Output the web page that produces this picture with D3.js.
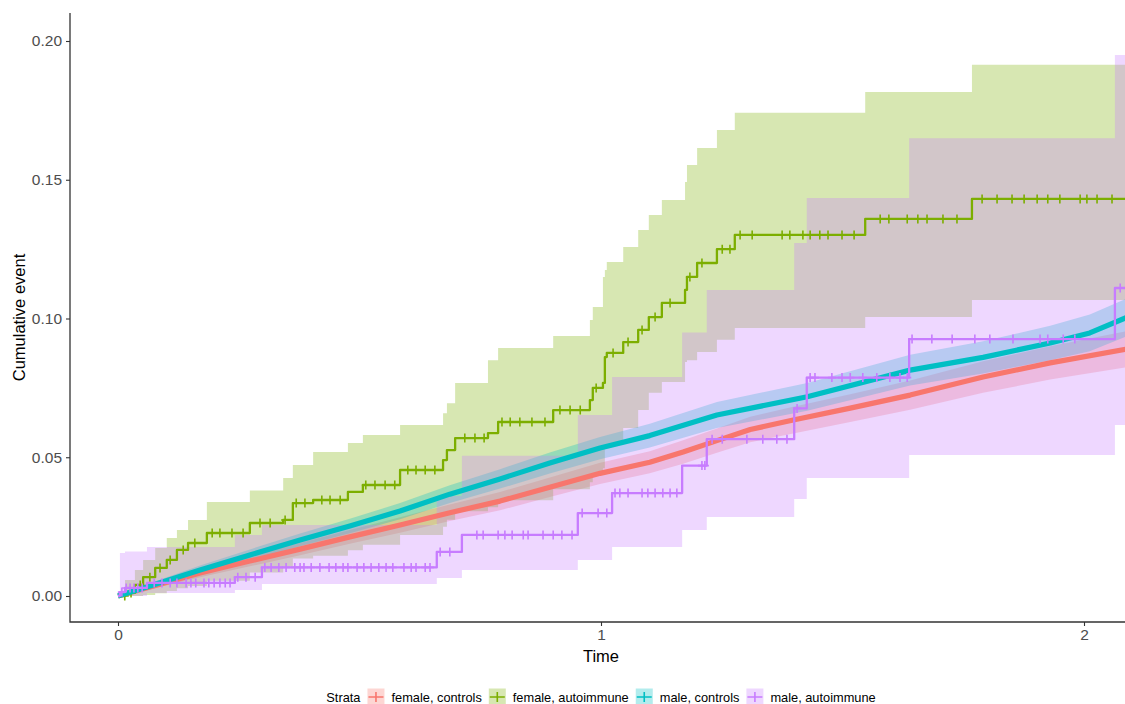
<!DOCTYPE html>
<html>
<head>
<meta charset="utf-8">
<script src="https://cdn.jsdelivr.net/npm/d3@7/dist/d3.min.js"></script>
<style>
  body { margin: 0; background: #ffffff; }
  svg text { font-family: "Liberation Sans", Arial, Helvetica, sans-serif; }
</style>
</head>
<body>
<svg id="chart" width="1125" height="704"></svg>
<script>
// ---- strata / colours (ggplot default hues) ----
var strataNames = ["female, controls", "female, autoimmune", "male, controls", "male, autoimmune"];
var strataColors = ["#F8766D", "#7CAE00", "#00BFC4", "#C77CFF"];

var xTicks = [0, 1, 2];
var yTicks = [0, 0.05, 0.10, 0.15, 0.20];

// ---- female, controls (many events -> looks smooth) ----
var fcTime  = [0, 0.066, 0.170, 0.273, 0.377, 0.480, 0.584, 0.687, 0.791, 0.894, 0.998, 1.101, 1.170, 1.240, 1.309, 1.398, 1.516, 1.640, 1.791, 1.930, 2.09];
var fcEst   = [0, 0.0032, 0.0083, 0.0126, 0.0169, 0.0213, 0.0256, 0.0300, 0.0342, 0.0392, 0.0442, 0.0482, 0.0519, 0.0560, 0.0600, 0.0634, 0.0677, 0.0724, 0.0789, 0.0840, 0.0890];
var fcLower = [0, 0.0023, 0.0068, 0.0107, 0.0147, 0.0188, 0.0228, 0.0270, 0.0309, 0.0357, 0.0404, 0.0442, 0.0477, 0.0516, 0.0554, 0.0586, 0.0627, 0.0671, 0.0732, 0.0780, 0.0825];
var fcUpper = [0, 0.0041, 0.0098, 0.0145, 0.0191, 0.0238, 0.0284, 0.0330, 0.0375, 0.0427, 0.0480, 0.0522, 0.0561, 0.0604, 0.0646, 0.0682, 0.0727, 0.0777, 0.0846, 0.0900, 0.0955];

// ---- male, controls ----
var mcTime  = [0, 0.066, 0.170, 0.273, 0.377, 0.480, 0.584, 0.687, 0.791, 0.894, 0.998, 1.101, 1.240, 1.427, 1.640, 1.791, 1.930, 2.012, 2.09];
var mcEst   = [0, 0.0036, 0.0094, 0.0148, 0.0202, 0.0252, 0.0306, 0.0367, 0.0422, 0.0479, 0.0533, 0.0578, 0.0652, 0.0718, 0.0814, 0.0860, 0.0912, 0.0948, 0.1005];
var mcLower = [0, 0.0026, 0.0078, 0.0128, 0.0179, 0.0226, 0.0277, 0.0335, 0.0387, 0.0441, 0.0493, 0.0535, 0.0605, 0.0668, 0.0759, 0.0802, 0.0850, 0.0882, 0.0937];
var mcUpper = [0, 0.0046, 0.0110, 0.0168, 0.0225, 0.0278, 0.0335, 0.0399, 0.0457, 0.0517, 0.0573, 0.0621, 0.0699, 0.0768, 0.0869, 0.0918, 0.0974, 0.1014, 0.1073];

// ---- female, autoimmune (step curve) ----
var faTime  = [0, 0.0145, 0.035, 0.052, 0.077, 0.101, 0.122, 0.145, 0.184, 0.273, 0.342, 0.362, 0.404, 0.476, 0.507, 0.584, 0.673, 0.681, 0.698, 0.766, 0.787, 0.901, 0.977, 0.983, 1.004, 1.008, 1.012, 1.046, 1.077, 1.099, 1.126, 1.174, 1.178, 1.199, 1.240, 1.277, 1.547, 1.768, 2.09];
var faEst   = [0, 0.0011, 0.0040, 0.0068, 0.0101, 0.0130, 0.0166, 0.0191, 0.0227, 0.0263, 0.0274, 0.0335, 0.0346, 0.0375, 0.0400, 0.0454, 0.0490, 0.0526, 0.0569, 0.0587, 0.0627, 0.0670, 0.0706, 0.0750, 0.0768, 0.0861, 0.0876, 0.0915, 0.0959, 0.1005, 0.1056, 0.1103, 0.1150, 0.1200, 0.1250, 0.1301, 0.1359, 0.1431, 0.1431];
var faLower = [0, 0, 0, 0.0004, 0.0010, 0.0018, 0.0028, 0.0036, 0.0055, 0.0085, 0.0105, 0.0135, 0.0145, 0.0165, 0.0185, 0.0220, 0.0250, 0.0275, 0.0305, 0.0320, 0.0345, 0.0385, 0.0410, 0.0440, 0.0460, 0.0530, 0.0545, 0.0605, 0.0670, 0.0732, 0.0771, 0.0843, 0.0850, 0.0879, 0.0923, 0.0966, 0.1005, 0.1067, 0.1067];
var faUpper = [0, 0.0058, 0.0094, 0.0130, 0.0173, 0.0209, 0.0238, 0.0274, 0.0339, 0.0380, 0.0425, 0.0472, 0.0519, 0.0551, 0.0580, 0.0616, 0.0659, 0.0695, 0.0768, 0.0850, 0.0894, 0.0937, 0.0995, 0.1041, 0.1150, 0.1175, 0.1204, 0.1258, 0.1319, 0.1373, 0.1427, 0.1492, 0.1553, 0.1614, 0.1679, 0.1741, 0.1816, 0.1914, 0.1914];
var faCensor = [0.014, 0.027, 0.046, 0.066, 0.087, 0.108, 0.135, 0.159, 0.195, 0.211, 0.236, 0.259, 0.294, 0.315, 0.346, 0.369, 0.387, 0.422, 0.439, 0.460, 0.513, 0.532, 0.553, 0.573, 0.600, 0.617, 0.636, 0.656, 0.718, 0.739, 0.758, 0.795, 0.812, 0.832, 0.857, 0.884, 0.915, 0.936, 0.957, 0.990, 1.025, 1.056, 1.085, 1.112, 1.143, 1.184, 1.209, 1.251, 1.267, 1.288, 1.313, 1.375, 1.391, 1.418, 1.433, 1.453, 1.470, 1.499, 1.524, 1.578, 1.596, 1.634, 1.656, 1.675, 1.708, 1.737, 1.789, 1.820, 1.851, 1.876, 1.903, 1.925, 1.950, 1.992, 2.006, 2.027, 2.058];

// ---- male, autoimmune (step curve) ----
var maTime  = [0, 0.004, 0.0145, 0.060, 0.242, 0.298, 0.660, 0.712, 0.952, 1.023, 1.168, 1.219, 1.400, 1.426, 1.638, 2.064, 2.09];
var maEst   = [0, 0.0014, 0.0029, 0.0047, 0.0068, 0.0103, 0.0159, 0.0220, 0.0299, 0.0371, 0.0470, 0.0565, 0.0676, 0.0787, 0.0926, 0.1110, 0.1110];
var maLower = [0, 0, 0, 0.0011, 0.0022, 0.0043, 0.0065, 0.0094, 0.0130, 0.0177, 0.0238, 0.0285, 0.0350, 0.0425, 0.0508, 0.0616, 0.0616];
var maUpper = [0, 0.0155, 0.0160, 0.0177, 0.0220, 0.0256, 0.0360, 0.0505, 0.0652, 0.0789, 0.0950, 0.1103, 0.1272, 0.1434, 0.1650, 0.1950, 0.1950];
var maCensor = [0.008, 0.017, 0.025, 0.033, 0.041, 0.050, 0.075, 0.091, 0.108, 0.122, 0.141, 0.151, 0.161, 0.178, 0.188, 0.199, 0.211, 0.222, 0.232, 0.248, 0.265, 0.284, 0.304, 0.317, 0.333, 0.348, 0.366, 0.377, 0.385, 0.400, 0.418, 0.437, 0.451, 0.466, 0.476, 0.495, 0.509, 0.524, 0.540, 0.555, 0.569, 0.592, 0.607, 0.617, 0.636, 0.646, 0.667, 0.687, 0.743, 0.756, 0.787, 0.801, 0.816, 0.839, 0.849, 0.880, 0.901, 0.919, 0.940, 0.961, 0.994, 1.012, 1.029, 1.039, 1.056, 1.085, 1.097, 1.112, 1.128, 1.143, 1.157, 1.209, 1.215, 1.230, 1.251, 1.302, 1.335, 1.364, 1.385, 1.406, 1.433, 1.443, 1.478, 1.499, 1.516, 1.542, 1.571, 1.598, 1.619, 1.634, 1.644, 1.685, 1.727, 1.774, 1.805, 1.853, 1.909, 1.925, 1.957, 1.981, 2.075];

//Put the strata together in the order ggplot draws them
var strata = [
  {name: strataNames[0], color: strataColors[0], time: fcTime, est: fcEst, lower: fcLower, upper: fcUpper, step: false, censor: []},
  {name: strataNames[1], color: strataColors[1], time: faTime, est: faEst, lower: faLower, upper: faUpper, step: true, censor: faCensor},
  {name: strataNames[2], color: strataColors[2], time: mcTime, est: mcEst, lower: mcLower, upper: mcUpper, step: false, censor: []},
  {name: strataNames[3], color: strataColors[3], time: maTime, est: maEst, lower: maLower, upper: maUpper, step: true, censor: maCensor}
];

var width = 1125, height = 704;
var panel = {left: 70, right: 1125, top: 13, bottom: 622};

var svg = d3.select("#chart");
svg.append("rect").attr("width", width).attr("height", height).attr("fill", "#ffffff");

var xScale = d3.scaleLinear().domain([0, 2]).range([118, 1084]);
var yScale = d3.scaleLinear().domain([0, 0.2]).range([596, 41]);

//clip curves to the panel (the curves run off the right edge)
svg.append("clipPath").attr("id", "panel-clip")
  .append("rect")
    .attr("x", panel.left).attr("y", panel.top)
    .attr("width", panel.right - panel.left).attr("height", panel.bottom - panel.top);

var plot = svg.append("g").attr("clip-path", "url(#panel-clip)");

function rows(s) {
  return s.time.map(function (t, i) {
    return {t: t, est: s.est[i], lower: s.lower[i], upper: s.upper[i]};
  });
}

//ribbons first
strata.forEach(function (s) {
  var area = d3.area()
      .curve(s.step ? d3.curveStepAfter : d3.curveLinear)
      .x(function (d) { return xScale(d.t); })
      .y0(function (d) { return yScale(d.lower); })
      .y1(function (d) { return yScale(d.upper); });
  plot.append("path")
      .datum(rows(s))
      .attr("d", area)
      .attr("fill", s.color)
      .attr("fill-opacity", 0.3);
});

//then lines + censor marks
strata.forEach(function (s) {
  var line = d3.line()
      .curve(s.step ? d3.curveStepAfter : d3.curveLinear)
      .x(function (d) { return xScale(d.t); })
      .y(function (d) { return yScale(d.est); });
  plot.append("path")
      .datum(rows(s))
      .attr("d", line)
      .attr("fill", "none")
      .attr("stroke", s.color)
      .attr("stroke-width", s.step ? 2.3 : 5.2)
      .attr("stroke-linejoin", "round");

  //censor marks sit on the step value at that time
  var marks = plot.append("g");
  s.censor.forEach(function (t) {
    var i = d3.bisectRight(s.time, t) - 1;
    var cx = xScale(t), cy = yScale(s.est[i]);
    marks.append("path")
        .attr("d", "M" + cx + "," + (cy - 4.5) + "V" + (cy + 4.5) + "M" + (cx - 4) + "," + cy + "H" + (cx + 4))
        .attr("stroke", s.color)
        .attr("stroke-width", 1.6)
        .attr("fill", "none");
  });
});

// ---- axes ----
var axisColor = "#333333";
var yAxis = svg.append("g")
    .attr("transform", "translate(" + panel.left + ",0)")
    .call(d3.axisLeft(yScale).tickValues(yTicks).tickFormat(d3.format(".2f")).tickSize(4).tickPadding(4));
var xAxis = svg.append("g")
    .attr("transform", "translate(0," + panel.bottom + ")")
    .call(d3.axisBottom(xScale).tickValues(xTicks).tickFormat(d3.format("d")).tickSize(4).tickPadding(3));

[yAxis, xAxis].forEach(function (ax) {
  ax.select(".domain").remove();
  ax.selectAll(".tick line").attr("stroke", axisColor).attr("stroke-width", 1.1);
  ax.selectAll(".tick text")
      .attr("fill", "#4d4d4d")
      .style("font-size", "15.5px")
      .style("font-family", "'Liberation Sans', Arial, sans-serif");
});

//axis lines span the whole panel
svg.append("path")
    .attr("d", "M" + panel.left + "," + panel.top + "V" + panel.bottom + "H" + panel.right)
    .attr("fill", "none")
    .attr("stroke", axisColor)
    .attr("stroke-width", 1.3);

svg.append("text")
    .attr("x", 601).attr("y", 662)
    .attr("text-anchor", "middle")
    .style("font-size", "16.5px")
    .attr("fill", "#000")
    .text("Time");

svg.append("text")
    .attr("transform", "translate(25," + ((panel.top + panel.bottom) / 2) + ")rotate(-90)")
    .attr("text-anchor", "middle")
    .style("font-size", "16.5px")
    .attr("fill", "#000")
    .text("Cumulative event");

// ---- legend (bottom, centred) ----
var legendFont = 12.8;
var keySize = 17;
var legend = svg.append("g");
var cursor = 0;
var legendY = 697;

var title = legend.append("text")
    .attr("x", 0).attr("y", legendY + 4.5)
    .style("font-size", legendFont + "px")
    .attr("fill", "#000")
    .text("Strata");
cursor = title.node().getComputedTextLength() + 7;

strata.forEach(function (s) {
  var key = legend.append("g").attr("transform", "translate(" + cursor + "," + (legendY - keySize / 2) + ")");
  key.append("rect")
      .attr("width", keySize).attr("height", keySize)
      .attr("fill", s.color).attr("fill-opacity", 0.3);
  key.append("path")
      .attr("d", "M1," + keySize / 2 + "H" + (keySize - 1) + "M" + keySize / 2 + "," + (keySize / 2 - 5) + "V" + (keySize / 2 + 5))
      .attr("stroke", s.color).attr("stroke-width", 1.6);
  cursor += keySize + 7;
  var label = legend.append("text")
      .attr("x", cursor).attr("y", legendY + 4.5)
      .style("font-size", legendFont + "px")
      .attr("fill", "#000")
      .text(s.name);
  cursor += label.node().getComputedTextLength() + 7;
});
cursor -= 7;
legend.attr("transform", "translate(" + (601 - cursor / 2) + ",0)");
</script>
</body>
</html>
